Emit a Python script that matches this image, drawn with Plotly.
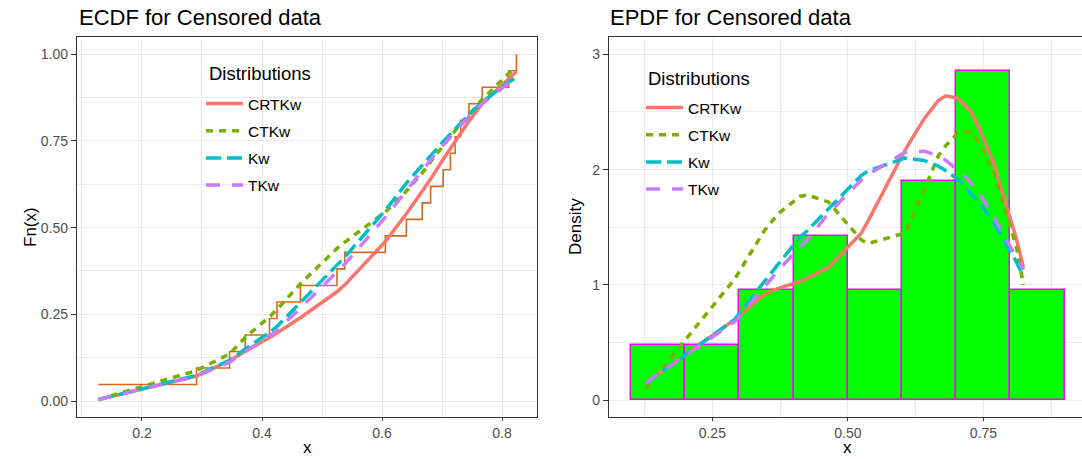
import numpy as np
import plotly.graph_objects as go

# ---------------- data ----------------
x_data = [0.127, 0.291, 0.346, 0.372, 0.4125, 0.425, 0.464, 0.525, 0.538, 0.6056,
          0.6406, 0.667, 0.681, 0.702, 0.714, 0.722, 0.731, 0.745, 0.767, 0.811, 0.824]

dist_names = ["CRTKw", "CTKw", "Kw", "TKw"]
legend_title = "Distributions"

cdf_CRTKw = [0.004, 0.072, 0.117, 0.142, 0.183, 0.196, 0.240, 0.315, 0.335, 0.460,
             0.540, 0.605, 0.640, 0.697, 0.728, 0.750, 0.772, 0.807, 0.857, 0.930, 0.950]
cdf_CTKw = [0.004, 0.088, 0.136, 0.183, 0.243, 0.264, 0.338, 0.440, 0.458, 0.545,
            0.605, 0.657, 0.690, 0.735, 0.760, 0.780, 0.800, 0.825, 0.870, 0.944, 0.958]
cdf_Kw = [0.004, 0.074, 0.117, 0.150, 0.198, 0.215, 0.284, 0.390, 0.415, 0.550,
          0.628, 0.680, 0.708, 0.748, 0.770, 0.785, 0.800, 0.826, 0.862, 0.920, 0.932]
cdf_TKw = [0.004, 0.072, 0.112, 0.143, 0.188, 0.204, 0.268, 0.370, 0.395, 0.530,
           0.608, 0.665, 0.695, 0.738, 0.762, 0.778, 0.795, 0.820, 0.857, 0.917, 0.928]

pdf_CRTKw = [0.15, 0.70, 0.92, 0.97, 1.03, 1.06, 1.15, 1.45, 1.56, 2.17,
             2.44, 2.60, 2.64, 2.62, 2.57, 2.53, 2.47, 2.33, 2.08, 1.40, 1.15]
pdf_CTKw = [0.10, 1.05, 1.47, 1.62, 1.77, 1.78, 1.72, 1.39, 1.36, 1.45,
            1.82, 2.12, 2.21, 2.31, 2.33, 2.33, 2.31, 2.21, 2.01, 1.33, 1.00]
pdf_Kw = [0.145, 0.70, 1.03, 1.18, 1.42, 1.47, 1.66, 1.95, 1.99, 2.10,
          2.08, 2.03, 1.99, 1.92, 1.86, 1.82, 1.78, 1.70, 1.55, 1.20, 1.07]
pdf_TKw = [0.15, 0.68, 0.98, 1.13, 1.33, 1.39, 1.62, 1.91, 1.96, 2.15,
           2.16, 2.12, 2.08, 2.00, 1.95, 1.91, 1.86, 1.78, 1.61, 1.24, 1.13]

cdfs = [cdf_CRTKw, cdf_CTKw, cdf_Kw, cdf_TKw]
pdfs = [pdf_CRTKw, pdf_CTKw, pdf_Kw, pdf_TKw]

# ---------------- styles ----------------
colors = ["#F8766D", "#7CAE00", "#00BFC4", "#C77CFF"]
dashes = ["solid", "7px,6px", "15px,6px", "14px,12px"]
FONT = "Liberation Sans, Arial, sans-serif"
W, H = 1082, 459

fig = go.Figure()

# empirical CDF (steps)
xs = np.sort(np.array(x_data))
ecdf_y = np.arange(1, len(xs) + 1) / len(xs)
fig.add_trace(go.Scatter(x=xs, y=ecdf_y, mode="lines", line=dict(color="#D2691E", width=1.6, shape="hv"),
                         showlegend=False, hoverinfo="skip", xaxis="x", yaxis="y"))

for name, c, d, yv in zip(dist_names, colors, dashes, cdfs):
    fig.add_trace(go.Scatter(x=x_data, y=yv, mode="lines", name=name,
                             line=dict(color=c, width=3.5, dash=d),
                             legend="legend", legendgroup=name, xaxis="x", yaxis="y"))

# histogram
fig.add_trace(go.Histogram(x=x_data, histnorm="probability density",
                           xbins=dict(start=0.1, end=0.9, size=0.1), autobinx=False,
                           marker=dict(color="#00FF00", line=dict(color="#FF00FF", width=1.5)),
                           showlegend=False, xaxis="x2", yaxis="y2"))

for name, c, d, yv in zip(dist_names, colors, dashes, pdfs):
    fig.add_trace(go.Scatter(x=x_data, y=yv, mode="lines", name=name,
                             line=dict(color=c, width=3.5, dash=d),
                             legend="legend2", legendgroup=name + "_2", xaxis="x2", yaxis="y2"))

axis_common = dict(showgrid=True, gridcolor="#EBEBEB", gridwidth=1.2, zeroline=False,
                   showline=True, linecolor="#333333", linewidth=1.3, mirror=True,
                   ticks="outside", tickcolor="#333333", tickwidth=1.1,
                   tickfont=dict(family=FONT, size=14, color="#4D4D4D"))


def minor(vals):
    return dict(tickvals=vals, showgrid=True, gridcolor="#EBEBEB", gridwidth=0.6, ticks="")


plot_top, plot_bot = 37, 417
ph = plot_bot - plot_top


def py(v):
    """pixel row -> paper y"""
    return (plot_bot - v) / ph


legend_common = dict(xanchor="left", yanchor="top", bgcolor="rgba(0,0,0,0)", borderwidth=0,
                     traceorder="grouped", tracegroupgap=4, itemwidth=37,
                     font=dict(family=FONT, size=15.5, color="black"))

# white legend key boxes (drawn between gridlines and traces)
shapes = [
    dict(type="rect", xref="paper", yref="paper", x0=197 / W, x1=325 / W, y0=py(207), y1=py(55),
         fillcolor="white", line=dict(width=0), layer="between"),
    dict(type="rect", xref="paper", yref="paper", x0=637 / W, x1=763 / W, y0=py(210), y1=py(60),
         fillcolor="white", line=dict(width=0), layer="between"),
]

ann_font = dict(family=FONT, size=17, color="black")
fig.update_layout(
    width=W, height=H,
    margin=dict(l=0, r=0, t=plot_top, b=H - plot_bot),
    paper_bgcolor="white", plot_bgcolor="white",
    bargap=0,
    xaxis=dict(domain=[77 / W, 537 / W], range=[0.0917, 0.8583],
               tickvals=[0.2, 0.4, 0.6, 0.8], ticktext=["0.2", "0.4", "0.6", "0.8"], ticklen=3,
               minor=minor([0.1, 0.3, 0.5, 0.7]), **axis_common),
    yaxis=dict(domain=[0, 1], range=[-0.046, 1.0496], anchor="x",
               tickvals=[0, 0.25, 0.5, 0.75, 1.0], ticktext=["0.00", "0.25", "0.50", "0.75", "1.00"], ticklen=5,
               minor=minor([0.125, 0.375, 0.625, 0.875]), **axis_common),
    xaxis2=dict(domain=[609 / W, 1.0], range=[0.0594, 0.932], anchor="y2",
                tickvals=[0.25, 0.5, 0.75], ticktext=["0.25", "0.50", "0.75"], ticklen=3,
                minor=minor([0.125, 0.375, 0.625, 0.875]), **axis_common),
    yaxis2=dict(domain=[0, 1], range=[-0.145, 3.15], anchor="x2",
                tickvals=[0, 1, 2, 3], ticktext=["0", "1", "2", "3"], ticklen=5,
                minor=minor([0.5, 1.5, 2.5]), **axis_common),
    legend=dict(x=201 / W, y=py(87), **legend_common),
    legend2=dict(x=641 / W, y=py(91), **legend_common),
    shapes=shapes,
    annotations=[
        dict(text="ECDF for Censored data", xref="paper", yref="paper", x=77 / W, y=py(18),
             xanchor="left", yanchor="middle", showarrow=False, font=dict(family=FONT, size=22, color="black")),
        dict(text="EPDF for Censored data", xref="paper", yref="paper", x=608 / W, y=py(18),
             xanchor="left", yanchor="middle", showarrow=False, font=dict(family=FONT, size=22, color="black")),
        dict(text=legend_title, xref="paper", yref="paper", x=207 / W, y=py(74),
             xanchor="left", yanchor="middle", showarrow=False, font=dict(family=FONT, size=18.5, color="black")),
        dict(text=legend_title, xref="paper", yref="paper", x=646 / W, y=py(78),
             xanchor="left", yanchor="middle", showarrow=False, font=dict(family=FONT, size=18.5, color="black")),
        dict(text="Fn(x)", xref="paper", yref="paper", x=30 / W, y=py(227), textangle=-90,
             xanchor="center", yanchor="middle", showarrow=False, font=ann_font),
        dict(text="Density", xref="paper", yref="paper", x=575 / W, y=py(227), textangle=-90,
             xanchor="center", yanchor="middle", showarrow=False, font=ann_font),
        dict(text="x", xref="paper", yref="paper", x=307 / W, y=py(459),
             xanchor="center", yanchor="bottom", showarrow=False, font=ann_font),
        dict(text="x", xref="paper", yref="paper", x=847 / W, y=py(459),
             xanchor="center", yanchor="bottom", showarrow=False, font=ann_font),
    ],
)

fig.write_html("out.html")
